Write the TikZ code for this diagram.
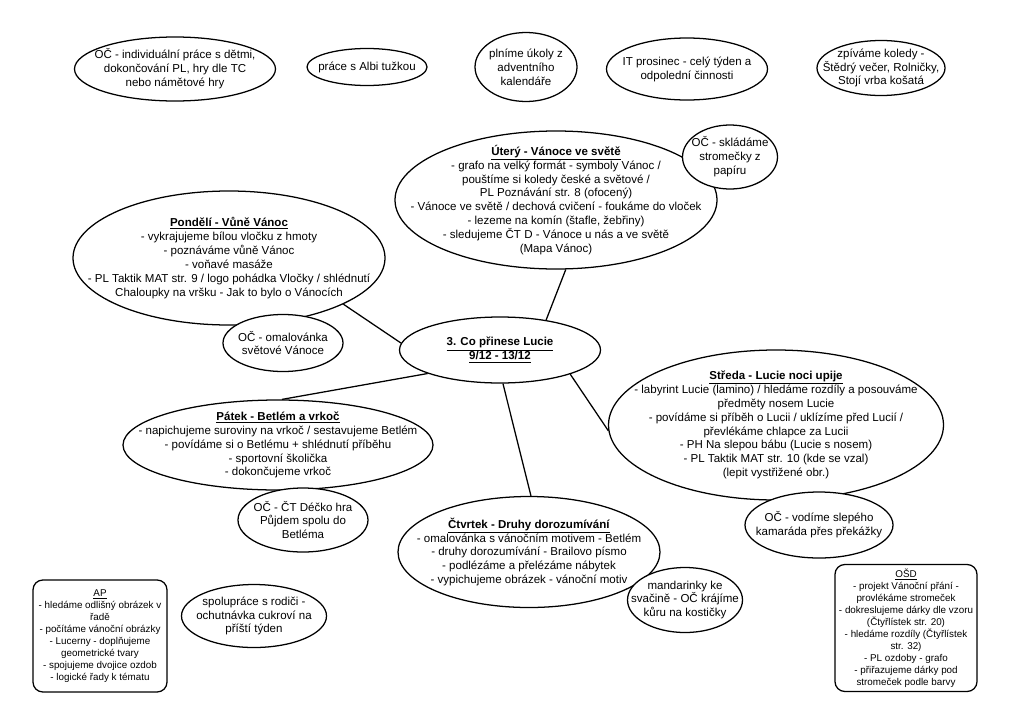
\documentclass[tikz,border=0pt]{standalone}
\usepackage{fontspec}
\setmainfont{Liberation Sans}
\usetikzlibrary{shapes.geometric}
\newcommand\daytitle[1]{\underline{\textbf{#1}}}
\tikzset{bub/.style 2 args={draw, ellipse, fill=white, line width=0.9pt, inner sep=0pt,
  minimum width=#1*0.025cm, minimum height=#2*0.025cm},
  every label/.style={align=center, font=\fontsize{8.2}{9.9}\selectfont},
  notebox/.style={draw, rounded corners=7pt, fill=white, line width=0.9pt, align=center,
  inner sep=0pt, font=\fontsize{7}{8.5}\selectfont},
  link/.style={line width=0.9pt}}

\begin{document}
\begin{tikzpicture}[x=0.025cm, y=-0.025cm]
  \useasboundingbox (0,0) rectangle (1024,723);
  % top row
  \node[bub={201}{64}, label={center:{OČ - individuální práce s dětmi,\\ dokončování PL, hry dle TC\\ nebo námětové hry}}] (ind) at (175,69) {};
  \node[bub={120}{37}, label={center:{práce s Albi tužkou}}] (albi) at (367,67) {};
  \node[bub={102}{69}, label={center:{plníme úkoly z\\ adventního\\ kalendáře}}] (adv) at (526,67) {};
  \node[bub={161}{62}, label={center:{IT prosinec - celý týden a\\ odpolední činnosti}}] (it) at (687,69) {};
  \node[bub={128}{55}, label={center:{zpíváme koledy -\\ Štědrý večer, Rolničky,\\ Stojí vrba košatá}}] (kol) at (881,68) {};
  % days
  \node[bub={322}{138}, label={center:{\daytitle{Úterý - Vánoce ve světě}\\ - grafo na velký formát - symboly Vánoc /\\ pouštíme si koledy české a světové /\\ PL Poznávání str. 8 (ofocený)\\ - Vánoce ve světě / dechová cvičení - foukáme do vloček\\ - lezeme na komín (štafle, žebřiny)\\ - sledujeme ČT D - Vánoce u nás a ve světě\\ (Mapa Vánoc)}}] (ute) at (556,200) {};
  \node[bub={95}{64}, label={center:{OČ - skládáme\\ stromečky z\\ papíru}}] (ute-oc) at (730,157) {};
  \node[bub={312}{134}, label={center:{\daytitle{Pondělí - Vůně Vánoc}\\ - vykrajujeme bílou vločku z hmoty\\ - poznáváme vůně Vánoc\\ - voňavé masáže\\ - PL Taktik MAT str. 9 / logo pohádka Vločky / shlédnutí\\ Chaloupky na vršku - Jak to bylo o Vánocích}}] (pon) at (229,258) {};
  \node[bub={120}{57}, label={center:{OČ - omalovánka\\ světové Vánoce}}] (pon-oc) at (283,343) {};
  \node[bub={201}{66}, label={center:{\daytitle{3. Co přinese Lucie}\\ \daytitle{9/12 - 13/12}}}] (mid) at (500,350) {};
  \node[bub={335}{150}, label={center:{\daytitle{Středa - Lucie noci upije}\\ - labyrint Lucie (lamino) / hledáme rozdíly a posouváme\\ předměty nosem Lucie\\ - povídáme si příběh o Lucii / uklízíme před Lucií /\\ převlékáme chlapce za Lucii\\ - PH Na slepou bábu (Lucie s nosem)\\ - PL Taktik MAT str. 10 (kde se vzal)\\ (lepit vystřižené obr.)}}] (str) at (776,425) {};
  \node[bub={148}{66}, label={center:{OČ - vodíme slepého\\ kamaráda přes překážky}}] (str-oc) at (819,525) {};
  \node[bub={310}{90}, label={center:{\daytitle{Pátek - Betlém a vrkoč}\\ - napichujeme suroviny na vrkoč / sestavujeme Betlém\\ - povídáme si o Betlému + shlédnutí příběhu\\ - sportovní školička\\ - dokončujeme vrkoč}}] (pat) at (278,445) {};
  \node[bub={130}{64}, label={center:{OČ - ČT Déčko hra\\ Půjdem spolu do\\ Betléma}}] (pat-oc) at (303,520) {};
  \node[bub={262}{111}, label={center:{\daytitle{Čtvrtek - Druhy dorozumívání}\\ - omalovánka s vánočním motivem - Betlém\\ - druhy dorozumívání - Brailovo písmo\\ - podlézáme a přelézáme nábytek\\ - vypichujeme obrázek - vánoční motiv}}] (ctv) at (529,552) {};
  \node[bub={115}{65}, label={center:{mandarinky ke\\ svačině - OČ krájíme\\ kůru na kostičky}}] (ctv-oc) at (685,600) {};
  % bottom
  \node[bub={145}{63}, label={center:{spolupráce s rodiči -\\ ochutnávka cukroví na\\ příští týden}}] (rod) at (254,616) {};
  \node[notebox, minimum width=134*0.025cm, minimum height=112*0.025cm] (ap) at (100,636)
    {\underline{AP}\\ - hledáme odlišný obrázek v\\ řadě\\ - počítáme vánoční obrázky\\ - Lucerny - doplňujeme\\ geometrické tvary\\ - spojujeme dvojice ozdob\\ - logické řady k tématu};
  \node[notebox, minimum width=142*0.025cm, minimum height=127*0.025cm] (osd) at (906,628)
    {\underline{OŠD}\\ - projekt Vánoční přání -\\ provlékáme stromeček\\ - dokreslujeme dárky dle vzoru\\ (Čtyřlístek str. 20)\\ - hledáme rozdíly (Čtyřlístek\\ str. 32)\\ - PL ozdoby - grafo\\ - přiřazujeme dárky pod\\ stromeček podle barvy};
  % spokes from the middle
  \draw[link] (mid.33) -- (ute.-82);
  \draw[link] (mid.176) -- (pon.-22);
  \draw[link] (mid.198) -- (pat.85);
  \draw[link] (mid.-85) -- (ctv.88);
  \draw[link] (mid.-19) -- (str.182);
\end{tikzpicture}
\end{document}
